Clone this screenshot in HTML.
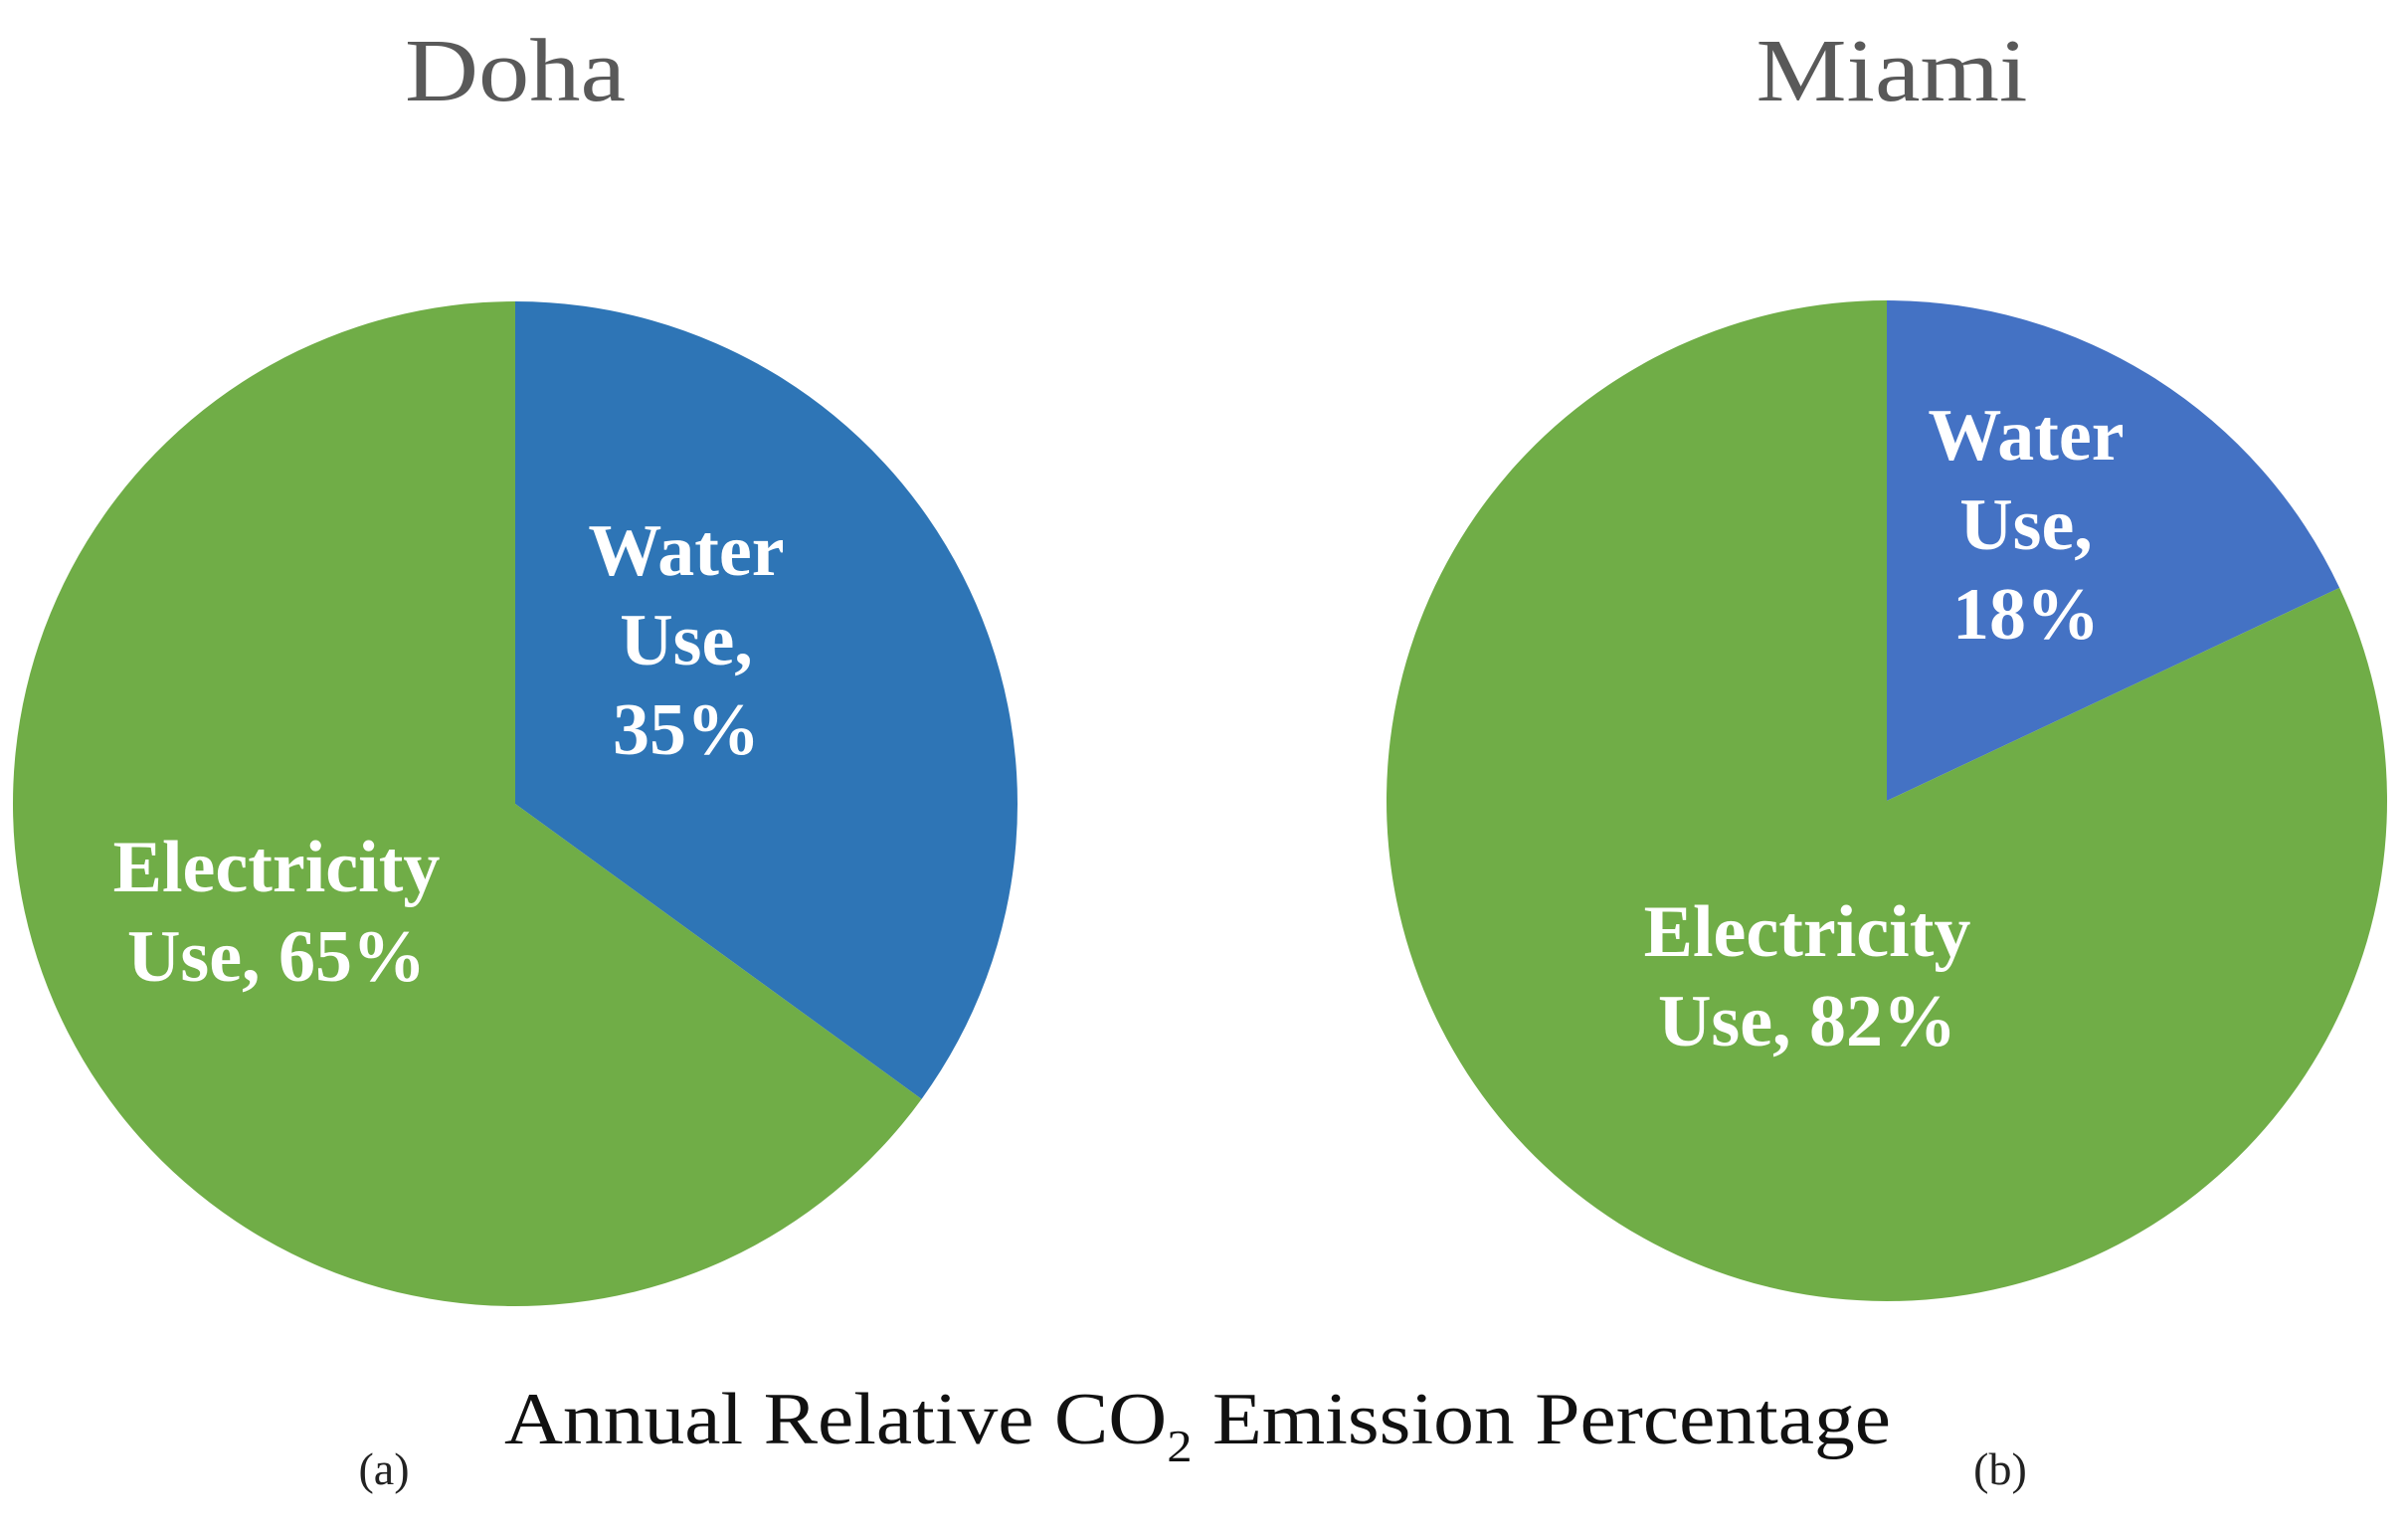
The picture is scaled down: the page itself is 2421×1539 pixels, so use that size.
<!DOCTYPE html>
<html><head><meta charset="utf-8">
<style>
html,body{margin:0;padding:0;background:#fff;}
svg{display:block;}
text{font-family:"Liberation Serif",serif;}
</style></head>
<body>
<svg id="chart" width="2421" height="1539" viewBox="0 0 2421 1539">
<text x="518" y="101" font-size="90" fill="#595959" text-anchor="middle" textLength="222" lengthAdjust="spacingAndGlyphs">Doha</text>
<text x="1902" y="101" font-size="90" fill="#595959" text-anchor="middle" textLength="273" lengthAdjust="spacingAndGlyphs">Miami</text>
<g id="pies"></g>
<text x="1204" y="1451" font-size="74" fill="#111" text-anchor="middle" textLength="1394" lengthAdjust="spacingAndGlyphs">Annual Relative CO<tspan font-size="46" dy="18">2</tspan><tspan dy="-18"> Emission Percentage</tspan></text>
<text x="386" y="1492" font-size="46" fill="#222" text-anchor="middle">(a)</text>
<text x="2011" y="1492" font-size="46" fill="#222" text-anchor="middle">(b)</text>
</svg>
<script>
const cities = ["Doha", "Miami"];
const categories = ["Water Use", "Electricity Use"];
const dohaValues = [35, 65];
const miamiValues = [18, 82];
const waterColors = ["#2E75B6", "#4472C4"];
const greenColor = "#70AD47";

const NS = "http://www.w3.org/2000/svg";
const g = document.getElementById("pies");
const centers = [[518, 808], [1897, 805]];
const radii = [505, 503];
const seriesList = [dohaValues, miamiValues];
const labelOffsets = [[[172, -164], [-240, 109]], [[140, -277], [-80, 177]]];

function pt(cx, cy, r, frac) {
  const a = frac * 2 * Math.PI;
  return [cx + r * Math.sin(a), cy - r * Math.cos(a)];
}

seriesList.forEach((vals, ci) => {
  const [cx, cy] = centers[ci];
  const R = radii[ci];
  const total = vals.reduce((a, b) => a + b, 0);
  let acc = 0;
  vals.forEach((v, i) => {
    const f0 = acc / total, f1 = (acc + v) / total;
    acc += v;
    const p0 = pt(cx, cy, R, f0), p1 = pt(cx, cy, R, f1);
    const large = (f1 - f0) > 0.5 ? 1 : 0;
    const path = document.createElementNS(NS, "path");
    path.setAttribute("d", `M${cx},${cy} L${p0[0]},${p0[1]} A${R},${R} 0 ${large} 1 ${p1[0]},${p1[1]} Z`);
    path.setAttribute("fill", i === 0 ? waterColors[ci] : greenColor);
    
    
    g.appendChild(path);

    const off = labelOffsets[ci][i];
    const lx = cx + off[0], ly = cy + off[1];
    let lines;
    if (i === 0) lines = ["Water", "Use,", v + "%"];
    else lines = ["Electricity", "Use, " + v + "%"];
    const lh = 90;
    const t = document.createElementNS(NS, "text");
    t.setAttribute("text-anchor", "middle");
    t.setAttribute("font-size", "74");
    t.setAttribute("font-weight", "bold");
    t.setAttribute("fill", "#fff");
    
    
    const startY = ly - (lines.length - 1) * lh / 2 + 24;
    lines.forEach((ln, k) => {
      const ts = document.createElementNS(NS, "tspan");
      ts.setAttribute("x", lx);
      ts.setAttribute("y", startY + k * lh);
      ts.textContent = ln;
      t.appendChild(ts);
    });
    g.appendChild(t);
  });
});
</script>
</body></html>
